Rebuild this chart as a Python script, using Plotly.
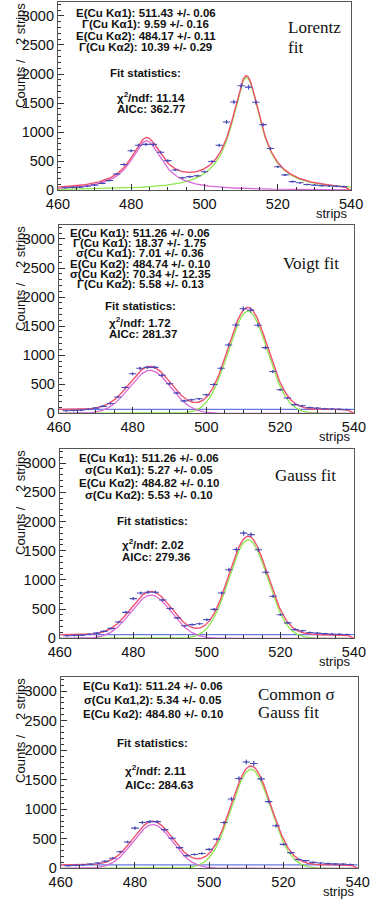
import math
import numpy as np
import plotly.graph_objects as go

W, H = 380, 911

# ---------------- data (histogram, 2 strips per bin) ----------------
strips = [462, 464, 466, 468, 470, 472, 474, 476, 478, 480,
          482, 484, 486, 488, 490, 492, 494, 496, 498, 500,
          502, 504, 506, 508, 510, 512, 514, 516, 518, 520,
          522, 524, 526, 528, 530, 532, 534, 536, 538]
counts = [45, 50, 55, 70, 90, 120, 170, 280, 445, 680,
          775, 790, 790, 655, 510, 350, 215, 235, 250, 320,
          495, 775, 1175, 1520, 1800, 1775, 1515, 1130, 720, 405,
          265, 150, 130, 100, 90, 80, 75, 70, 65]

# ---------------- fit parameters per panel ----------------
panel_shape = ["lorentz", "gauss", "gauss", "gauss"]
center_k1 = [511.43, 511.26, 511.26, 511.24]
center_k2 = [484.17, 484.74, 484.82, 484.80]
width_k1 = [9.59, 5.35, 5.27, 5.34]
width_k2 = [10.39, 5.60, 5.53, 5.34]
amp_k1 = [1940, 1755, 1685, 1675]
amp_k2 = [850, 740, 740, 740]
background = [0, 68, 63, 58]

panel_labels = [["E(Cu K\u03b11): 511.43 +/- 0.06", "\u0393(Cu K\u03b11): 9.59 +/- 0.16",
                 "E(Cu K\u03b12): 484.17 +/- 0.11", "\u0393(Cu K\u03b12): 10.39 +/- 0.29"],
                ["E(Cu K\u03b11): 511.26 +/- 0.06", "\u0393(Cu K\u03b11): 18.37 +/- 1.75",
                 "\u03c3(Cu K\u03b11): 7.01 +/- 0.36", "E(Cu K\u03b12): 484.74 +/- 0.10",
                 "\u03c3(Cu K\u03b12): 70.34 +/- 12.35", "\u0393(Cu K\u03b12): 5.58 +/- 0.13"],
                ["E(Cu K\u03b11): 511.26 +/- 0.06", "\u03c3(Cu K\u03b11): 5.27 +/- 0.05",
                 "E(Cu K\u03b12): 484.82 +/- 0.10", "\u03c3(Cu K\u03b12): 5.53 +/- 0.10"],
                ["E(Cu K\u03b11): 511.24 +/- 0.06", "\u03c3(Cu K\u03b11,2): 5.34 +/- 0.05",
                 "E(Cu K\u03b12): 484.80 +/- 0.10"]]
chi2 = ["11.14", "1.72", "2.02", "2.11"]
aicc = ["362.77", "281.37", "279.36", "284.63"]
fit_names = [["Lorentz", "fit"], ["Voigt fit"], ["Gauss fit"], ["Common \u03c3", "Gauss fit"]]

# ---------------- layout geometry (pixels) ----------------
frame_top = [2, 227, 453, 683]
frame_bot = [192, 417, 644, 876]
frame_left = [49, 50, 51, 52]
frame_right = [362, 365, 365, 369]
label_y = [[13, 24.5, 36, 47.5], [235, 245.3, 255.6, 266, 276.3, 286.6],
           [462.3, 474.3, 487, 499], [692.3, 706, 720]]
label_x = [143, 137, 146, 150]
stat_y = [(74, 97.5, 110), (308.3, 325, 337.3), (525.7, 549, 562.3), (750, 776.7, 792.3)]
stat_x = [(142.5, 110), (137.5, 101.7), (149.7, 115), (150, 118)]
name_pos = [(293, [28, 48]), (287, [265.7]), (279, [480]), (260, [701, 719.3])]

RED = "#f0506e"
GREEN = "#8ee84a"
MAGENTA = "#d96ad9"
BLUE_BG = "#6a78e0"
DATA = "#4a4ab8"
SANS = "Liberation Sans, Arial, Helvetica, sans-serif"
SERIF = "Liberation Serif, Times New Roman, serif"


def px(x):
    return x / W


def py(y):
    return 1 - y / H


def peak(x, c, w, a, shape):
    if shape == "lorentz":
        g = w / 2.0
        return a * g * g / ((x - c) ** 2 + g * g)
    return a * np.exp(-0.5 * ((x - c) / w) ** 2)


xs = np.linspace(460, 540, 481)
edge = np.array([1.0 / (1.0 + math.exp((v - 538.9) / 0.35)) for v in xs])

fig = go.Figure()
annotations = []

for i in range(4):
    n = "" if i == 0 else str(i + 1)
    xa, ya = "x" + n, "y" + n
    k1 = peak(xs, center_k1[i], width_k1[i], amp_k1[i], panel_shape[i])
    k2 = peak(xs, center_k2[i], width_k2[i], amp_k2[i], panel_shape[i])
    total = (k1 + k2 + background[i]) * edge
    if background[i] > 0:
        fig.add_trace(go.Scatter(x=[460, 540], y=[background[i], background[i]], mode="lines",
                                 line=dict(color=BLUE_BG, width=1.3), xaxis=xa, yaxis=ya,
                                 showlegend=False, hoverinfo="skip"))
    fig.add_trace(go.Scatter(x=xs, y=k1, mode="lines", line=dict(color=GREEN, width=1.3),
                             xaxis=xa, yaxis=ya, showlegend=False, hoverinfo="skip"))
    fig.add_trace(go.Scatter(x=xs, y=k2, mode="lines", line=dict(color=MAGENTA, width=1.3),
                             xaxis=xa, yaxis=ya, showlegend=False, hoverinfo="skip"))
    fig.add_trace(go.Scatter(x=xs, y=total, mode="lines", line=dict(color=RED, width=1.4),
                             xaxis=xa, yaxis=ya, showlegend=False, hoverinfo="skip"))
    fig.add_trace(go.Scatter(x=strips, y=counts, mode="markers",
                             marker=dict(size=2, color=DATA),
                             error_x=dict(type="constant", value=1, width=0, thickness=1.1, color=DATA),
                             error_y=dict(type="sqrt", width=0, thickness=1.1, color=DATA),
                             xaxis=xa, yaxis=ya, showlegend=False))

    dom_x = [px(frame_left[i]), px(frame_right[i])]
    dom_y = [py(frame_bot[i]), py(frame_top[i])]
    fig.layout["xaxis" + n] = dict(
        domain=dom_x, anchor=ya, range=[460, 540], tickvals=[460, 480, 500, 520, 540],
        ticks="inside", ticklen=6, tickcolor="#333", tickwidth=1,
        minor=dict(dtick=5, ticks="inside", ticklen=3, tickcolor="#333"),
        showline=True, linecolor="#555", linewidth=1, mirror=True,
        showgrid=False, zeroline=False,
        tickfont=dict(family=SANS, size=14.5, color="#111"))
    fig.layout["yaxis" + n] = dict(
        domain=dom_y, anchor=xa, range=[0, 3240], tickvals=[0, 500, 1000, 1500, 2000, 2500, 3000],
        ticks="inside", ticklen=6, tickcolor="#333", tickwidth=1,
        minor=dict(dtick=100, ticks="inside", ticklen=3, tickcolor="#333"),
        showline=True, linecolor="#555", linewidth=1, mirror=True,
        showgrid=False, zeroline=False,
        tickfont=dict(family=SANS, size=14.5, color="#111"))

    # parameter labels
    for t, yy in zip(panel_labels[i], label_y[i]):
        annotations.append(dict(text=t, x=px(label_x[i]), y=py(yy), xref="paper", yref="paper",
                                xanchor="center", yanchor="middle", showarrow=False,
                                font=dict(family=SANS, size=11.5, color="#111", weight="bold")))
    sy = stat_y[i]
    annotations.append(dict(text="Fit statistics:", x=px(stat_x[i][0]), y=py(sy[0]), xref="paper",
                            yref="paper", xanchor="center", yanchor="middle", showarrow=False,
                            font=dict(family=SANS, size=11.5, color="#111", weight="bold")))
    annotations.append(dict(text="\u03c7<sup>2</sup>/ndf: " + chi2[i], x=px(stat_x[i][1]), y=py(sy[1]),
                            xref="paper", yref="paper", xanchor="left", yanchor="middle",
                            showarrow=False,
                            font=dict(family=SANS, size=11.5, color="#111", weight="bold")))
    annotations.append(dict(text="AICc: " + aicc[i], x=px(stat_x[i][1]), y=py(sy[2]),
                            xref="paper", yref="paper", xanchor="left", yanchor="middle",
                            showarrow=False,
                            font=dict(family=SANS, size=11.5, color="#111", weight="bold")))
    nx, nys = name_pos[i]
    for t, yy in zip(fit_names[i], nys):
        annotations.append(dict(text=t, x=px(nx), y=py(yy), xref="paper", yref="paper",
                                xanchor="left", yanchor="middle", showarrow=False,
                                font=dict(family=SERIF, size=17, color="#111")))
    # axis titles
    annotations.append(dict(text="strips", x=px(frame_right[i] - 1), y=py(frame_bot[i] + 23),
                            xref="paper", yref="paper", xanchor="right", yanchor="middle",
                            showarrow=False, font=dict(family=SANS, size=13, color="#111")))
    annotations.append(dict(text="Counts /    2 strips", x=px(9), y=py(frame_top[i] - 1),
                            xref="paper", yref="paper", xanchor="center", yanchor="top",
                            textangle=-90, showarrow=False,
                            font=dict(family=SANS, size=13, color="#111")))

fig.update_layout(width=W, height=H, margin=dict(l=0, r=0, t=0, b=0),
                  paper_bgcolor="white", plot_bgcolor="white",
                  annotations=annotations, showlegend=False)

fig.write_html("out.html", config={"displayModeBar": False},
               post_script="document.body.style.margin='0px';document.body.style.overflow='hidden';")
